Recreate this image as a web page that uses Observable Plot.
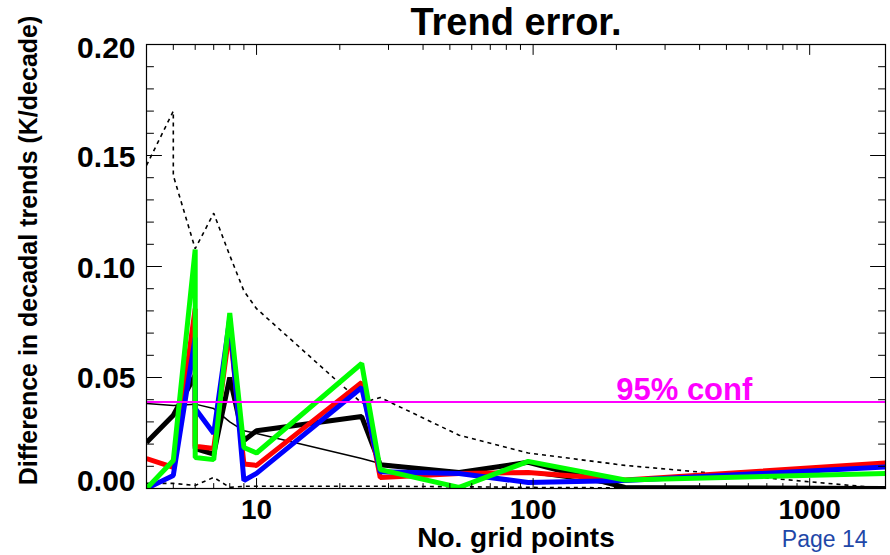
<!DOCTYPE html>
<html>
<head>
<meta charset="utf-8">
<script src="https://cdn.jsdelivr.net/npm/d3@7"></script>
<script src="https://cdn.jsdelivr.net/npm/@observablehq/plot@0.6"></script>
<style>
  html, body { margin: 0; padding: 0; background: #fff; }
  #chart { width: 890px; height: 555px; }
</style>
</head>
<body>
<div id="chart"></div>
<script>
// ---- data ----
const xPts        = [4, 5, 5, 6, 6, 7, 8, 9, 10, 24, 28, 54, 96, 215, 1880];
const upperDashed = [0.1455, 0.170, 0.141, 0.108, 0.108, 0.124, 0.105, 0.089, 0.081, 0.0385, 0.041, 0.024, 0.016, 0.0104, 0];
const lowerDashed = [0.0023, 0.0023, 0.0023, 0.0014, 0.0014, 0.005, 0.0005, 0.001, 0.001, 0.001, 0.001, 0.0008, 0.0005, 0.0003, 0];
const thinBlack   = [0.0383, 0.0374, 0.0374, 0.038, 0.038, 0.036, 0.030, 0.026, 0.0248, 0.0135, 0.0113, 0.0075, 0.007, 0.001, 0];
const thickBlack  = [0.0207, 0.033, 0.033, 0.051, 0.018, 0.0155, 0.050, 0.0216, 0.026, 0.0324, 0.0107, 0.0072, 0.0118, 0.0005, 0];
const redSeries   = [0.0135, 0.0095, 0.0095, 0.081, 0.019, 0.018, 0.072, 0.011, 0.0104, 0.0478, 0.005, 0.0068, 0.0072, 0.0038, 0.0115];
const blueSeries  = [0, 0.0059, 0.0059, 0.068, 0.036, 0.0248, 0.0766, 0.0036, 0.0068, 0.0455, 0.0075, 0.0068, 0.0027, 0.0036, 0.0097];
const greenSeries = [0, 0.0126, 0.0126, 0.1077, 0.014, 0.013, 0.079, 0.0185, 0.016, 0.0563, 0.0085, 0.0005, 0.0122, 0.0038, 0.0068];
const conf95 = 0.039;

const xMajor = [10, 100, 1000];
const xMinor = [4, 5, 6, 7, 8, 9, 20, 30, 40, 50, 60, 70, 80, 90, 200, 300, 400, 500, 600, 700, 800, 900];
const yMajor = [0, 0.05, 0.10, 0.15, 0.20];
const yMinor = [0.01, 0.02, 0.03, 0.04, 0.06, 0.07, 0.08, 0.09, 0.11, 0.12, 0.13, 0.14, 0.16, 0.17, 0.18, 0.19];
const xTickLabels = ["10", "100", "1000"];
const yTickLabels = ["0.00", "0.05", "0.10", "0.15", "0.20"];

const rows = (vals) => xPts.map((x, i) => ({x, y: vals[i]}));

const FONT = "Liberation Sans, Arial, Helvetica, sans-serif";
const tickShape = { draw(context, l) { context.moveTo(0, 0); context.lineTo(0, -l); } };

function ticks(data, key, anchor, rotate, len) {
  const o = {frameAnchor: anchor, rotate, length: len, anchor: "start", shape: tickShape, stroke: "black", strokeWidth: 1};
  o[key] = d => d;
  return Plot.vector(data, o);
}

// y tick labels: the reference draws the end labels slightly inside the range
const yLabelShift = [-7, 1, 2, 2, 4];
const yLabelMarks = yMajor.map((v, i) =>
  Plot.text([v], {y: d => d, text: () => yTickLabels[i], frameAnchor: "left", textAnchor: "end", dx: -11, dy: yLabelShift[i], lineAnchor: "middle", fontSize: 30, fontWeight: "bold"})
);

const chart = Plot.plot({
  width: 890,
  height: 555,
  marginLeft: 146,
  marginRight: 5,
  marginTop: 44,
  marginBottom: 67,
  style: {fontFamily: FONT, background: "white", color: "black"},
  x: {type: "log", domain: [4, 1880], axis: null},
  y: {domain: [0, 0.2], axis: null},
  marks: [
    // data lines
    Plot.line(rows(upperDashed), {x: "x", y: "y", stroke: "black", strokeWidth: 1.6, strokeDasharray: "4,4", strokeLinecap: "butt", strokeLinejoin: "miter", clip: true}),
    Plot.line(rows(lowerDashed), {x: "x", y: "y", stroke: "black", strokeWidth: 1.6, strokeDasharray: "4,4", strokeLinecap: "butt", strokeLinejoin: "miter", clip: true}),
    Plot.line(rows(thinBlack), {x: "x", y: "y", stroke: "black", strokeWidth: 1.5, strokeLinejoin: "miter", clip: true}),
    Plot.line(rows(thickBlack), {x: "x", y: "y", stroke: "black", strokeWidth: 5, strokeLinecap: "butt", strokeLinejoin: "miter", clip: true}),
    Plot.line(rows(redSeries), {x: "x", y: "y", stroke: "#ff0000", strokeWidth: 5, strokeLinecap: "butt", strokeLinejoin: "miter", clip: true}),
    Plot.line(rows(blueSeries), {x: "x", y: "y", stroke: "#0000ff", strokeWidth: 5, strokeLinecap: "butt", strokeLinejoin: "miter", clip: true}),
    Plot.line(rows(greenSeries), {x: "x", y: "y", stroke: "#00ff00", strokeWidth: 5, strokeLinecap: "butt", strokeLinejoin: "miter", clip: true}),
    // 95% confidence line
    Plot.ruleY([conf95], {stroke: "#ff00ff", strokeWidth: 2}),
    Plot.text([conf95], {x: () => 352, y: d => d, text: () => "95% conf", fill: "#ff00ff", fontSize: 31, fontWeight: "bold", lineAnchor: "bottom", dy: -2}),
    // frame
    Plot.frame({stroke: "black", strokeWidth: 1.2}),
    // ticks (inward, on all four sides)
    ticks(xMajor, "x", "bottom", 0, 10),
    ticks(xMinor, "x", "bottom", 0, 5),
    ticks(xMajor, "x", "top", 180, 10),
    ticks(xMinor, "x", "top", 180, 5),
    ticks(yMajor, "y", "left", 90, 15),
    ticks(yMinor, "y", "left", 90, 7),
    ticks(yMajor, "y", "right", -90, 15),
    ticks(yMinor, "y", "right", -90, 7),
    // tick labels
    Plot.text(xMajor, {x: d => d, text: (d, i) => xTickLabels[i], frameAnchor: "bottom", dy: 22, lineAnchor: "middle", fontSize: 28, fontWeight: "bold"}),
    ...yLabelMarks,
    // titles
    Plot.text([0], {text: () => "Trend error.", frameAnchor: "top", dy: -10, lineAnchor: "bottom", fontSize: 38, fontWeight: "bold"}),
    Plot.text([0], {text: () => "No. grid points", frameAnchor: "bottom", dy: 50, lineAnchor: "middle", fontSize: 28, fontWeight: "bold"}),
    Plot.text([0], {text: () => "Difference in decadal trends (K/decade)", frameAnchor: "left", textAnchor: "middle", dx: -118, dy: -16, rotate: -90, lineAnchor: "middle", fontSize: 25, fontWeight: "bold"}),
    Plot.text([0], {text: () => "Page 14", frameAnchor: "bottom-right", textAnchor: "end", dx: -18, dy: 51, lineAnchor: "middle", fontSize: 23, fill: "#1f47a8"})
  ]
});
document.getElementById("chart").appendChild(chart);
</script>
</body>
</html>
